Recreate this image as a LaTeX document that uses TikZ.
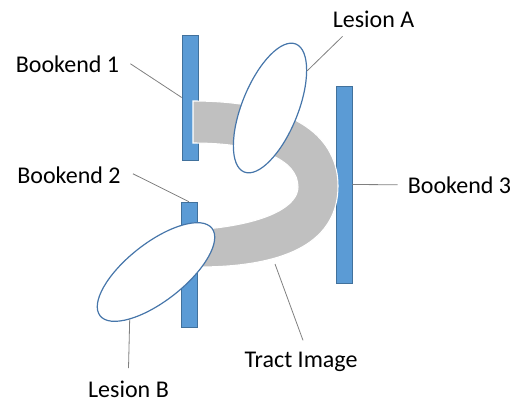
\documentclass[tikz,border=0pt]{standalone}
\usepackage{fontspec}
\setmainfont{Carlito}
\usetikzlibrary{positioning,shapes}
\definecolor{bookendblue}{RGB}{91,155,213}
\definecolor{bookendedge}{RGB}{65,113,156}
\definecolor{tractgray}{RGB}{192,192,192}
\definecolor{lesionedge}{RGB}{70,118,170}
\definecolor{leadergray}{RGB}{128,128,128}

\begin{document}
\begin{tikzpicture}
    [x=0.75pt, y=-0.75pt, font=\fontsize{18}{21}\selectfont,
    bookend/.style={rectangle, fill=bookendblue, draw=bookendedge, line width=0.4pt,
        inner sep=0pt, minimum width=12pt},
    lesion/.style={ellipse, fill=white, draw=lesionedge, line width=0.9pt, inner sep=0pt},
    tract/.style={fill=tractgray, draw=white, line width=0.8pt},
    leader/.style={draw=leadergray, line width=0.6pt},
    lbl/.style={inner sep=0pt, anchor=base}]
    \useasboundingbox (0,0) rectangle (524,401);
    % bookends
    \node [bookend, minimum height=93.75pt] (bookend1) at (190,97.5) {};
    \node [bookend, minimum height=93.75pt] (bookend2) at (189,264.5) {};
    \node [bookend, minimum height=147.75pt] (bookend3) at (344,184.5) {};
    % tract image
    \path [tract] (193,101) .. controls (300,101) and (338,140) .. (338,186)
        .. controls (338,240) and (290,267) .. (198,267)
        -- (206,229) .. controls (270,223) and (298,205) .. (298,187)
        .. controls (298,160) and (260,143) .. (193,143) -- cycle;
    \coordinate (tractedge) at (275,264);
    % lesions
    \node [lesion, minimum width=103.5pt, minimum height=42pt, rotate=68] (lesionA) at (270,108) {};
    \node [lesion, minimum width=106.5pt, minimum height=43.5pt, rotate=38] (lesionB) at (156,272) {};
    % labels
    \node [lbl] (lblbookend1) at (67.5,72) {Bookend 1};
    \node [lbl] (lblbookend2) at (69,183) {Bookend 2};
    \node [lbl] (lblbookend3) at (459.5,193) {Bookend 3};
    \node [lbl] (lbllesionA) at (373.5,27) {Lesion A};
    \node [lbl] (lbllesionB) at (128.5,397) {Lesion B};
    \node [lbl] (lbltract) at (301,367) {Tract Image};
    % leader lines
    \draw [leader] ([shift={(11,0)}]lblbookend1.east) -- (bookend1.west);
    \draw [leader] ([shift={(12,-1)}]lblbookend2.east) -- (bookend2.north);
    \draw [leader] (bookend3.east) -- ([shift={(-10,0)}]lblbookend3.west);
    \draw [leader] ([shift={(10,9)}]lbllesionA.south west) -- (lesionA.-23);
    \draw [leader] (lesionB.-157) -- ([shift={(0,-12)}]lbllesionB.north);
    \draw [leader] (tractedge) -- ([shift={(2,-11)}]lbltract.north);
\end{tikzpicture}
\end{document}
